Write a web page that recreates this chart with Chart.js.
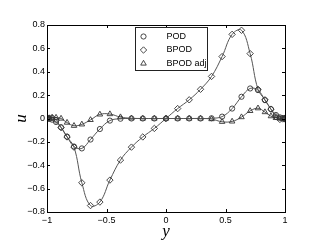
<!DOCTYPE html>
<html>
<head>
<meta charset="utf-8">
<script src="https://cdn.jsdelivr.net/npm/chart.js@4/dist/chart.umd.min.js"></script>
<style>
  html, body { margin: 0; padding: 0; background: #fff; }
  #wrap { width: 322px; height: 246px; position: relative; }
</style>
</head>
<body>
<div id="wrap"><canvas id="chart"></canvas></div>
<script>
// Chebyshev collocation nodes (y)
const nodes = [-1, -0.9952, -0.9808, -0.9569, -0.9239, -0.8819, -0.8315, -0.7730, -0.7071, -0.6344, -0.5556,
  -0.4714, -0.3827, -0.2903, -0.1951, -0.0980, 0, 0.0980, 0.1951, 0.2903, 0.3827, 0.4714,
  0.5556, 0.6344, 0.7071, 0.7730, 0.8315, 0.8819, 0.9239, 0.9569, 0.9808, 0.9952, 1];

const podU = [0, 0, -0.003, -0.01, -0.03, -0.075, -0.155, -0.24, -0.256, -0.18, -0.09,
  -0.018, -0.002, 0, 0, 0, 0, 0, 0, 0, 0.002, 0.016,
  0.085, 0.186, 0.257, 0.243, 0.157, 0.08, 0.03, 0.01, 0.003, 0, 0];

const bpodU = [0, 0, 0.004, 0.008, -0.015, -0.078, -0.158, -0.245, -0.55, -0.745, -0.715,
  -0.527, -0.356, -0.245, -0.158, -0.085, 0, 0.085, 0.16, 0.25, 0.36, 0.53,
  0.72, 0.755, 0.555, 0.25, 0.16, 0.08, 0.015, -0.008, -0.004, 0, 0];

const adjU = [0, 0, 0.002, 0.005, 0.008, 0, -0.035, -0.062, -0.05, -0.012, 0.035,
  0.038, 0.012, 0.002, 0, 0, 0, 0, 0, 0, -0.005, -0.028,
  -0.025, 0.012, 0.065, 0.088, 0.055, 0.02, 0.005, 0, 0, 0, 0];

const seriesNames = ['POD', 'BPOD', 'BPOD adj'];
const xTicks = [-1, -0.5, 0, 0.5, 1];
const yTicks = [-0.8, -0.6, -0.4, -0.2, 0, 0.2, 0.4, 0.6, 0.8];

const tickFont = { family: 'Liberation Sans', size: 9 };
const fmt = v => {
  const s = String(Math.round(v * 10) / 10);
  return s.replace('-', '\u2212');
};

function makeSet(label, values, style, radius) {
  return {
    label: label,
    data: nodes.map((x, i) => ({ x: x, y: values[i] })),
    borderColor: '#555',
    borderWidth: 1,
    tension: 0.4,
    pointStyle: style,
    pointRadius: radius,
    pointBorderColor: '#333',
    pointBorderWidth: 0.9,
    pointBackgroundColor: 'rgba(0,0,0,0)'
  };
}

// frame + inward ticks, like the original figure
const framePlugin = {
  id: 'frame',
  afterDatasetsDraw(chart) {
    const { ctx, chartArea: a, scales } = chart;
    ctx.save();
    ctx.strokeStyle = '#000';
    ctx.lineWidth = 1;
    ctx.beginPath();
    xTicks.forEach(v => {
      const px = Math.round(scales.x.getPixelForValue(v)) + 0.5;
      ctx.moveTo(px, a.bottom); ctx.lineTo(px, a.bottom - 3);
      ctx.moveTo(px, a.top); ctx.lineTo(px, a.top + 3);
    });
    yTicks.forEach(v => {
      const py = Math.round(scales.y.getPixelForValue(v)) + 0.5;
      ctx.moveTo(a.left, py); ctx.lineTo(a.left + 3, py);
      ctx.moveTo(a.right, py); ctx.lineTo(a.right - 3, py);
    });
    ctx.stroke();
    ctx.strokeRect(Math.round(a.left) + 0.5, Math.round(a.top) + 0.5,
      Math.round(a.right - a.left), Math.round(a.bottom - a.top));
    ctx.restore();
  }
};

// legend box drawn inside the plot
const legendPlugin = {
  id: 'boxLegend',
  afterDraw(chart) {
    const { ctx } = chart;
    const bx = 135.5, by = 27.5, bw = 72, bh = 43;
    ctx.save();
    ctx.fillStyle = '#fff';
    ctx.fillRect(bx, by, bw, bh);
    ctx.strokeStyle = '#222';
    ctx.lineWidth = 1;
    ctx.strokeRect(bx, by, bw, bh);
    ctx.font = '9px "Liberation Sans"';
    ctx.textBaseline = 'middle';
    chart.data.datasets.forEach((ds, i) => {
      const cy = by + 9 + i * 13.5;
      ctx.fillStyle = 'rgba(0,0,0,0)';
      ctx.strokeStyle = '#333';
      ctx.lineWidth = 0.9;
      Chart.helpers.drawPoint(ctx, {
        pointStyle: ds.pointStyle, radius: ds.pointRadius, borderWidth: 0.9
      }, bx + 8, cy);
      ctx.fillStyle = '#000';
      ctx.fillText(ds.label, bx + 31, cy);
    });
    ctx.restore();
  }
};

new Chart(document.getElementById('chart'), {
  type: 'line',
  data: {
    datasets: [
      makeSet(seriesNames[0], podU, 'circle', 2.6),
      makeSet(seriesNames[1], bpodU, 'rectRot', 3.2),
      makeSet(seriesNames[2], adjU, 'triangle', 3.2)
    ]
  },
  options: {
    responsive: true,
    maintainAspectRatio: false,
    animation: false,
    layout: { padding: { top: 25, right: 37, left: 0, bottom: 0 } },
    plugins: { legend: { display: false }, tooltip: { enabled: false } },
    elements: { point: { hoverRadius: 3 } },
    scales: {
      x: {
        type: 'linear',
        min: -1, max: 1,
        afterFit: s => { s.height = 34; },
        afterBuildTicks: s => { s.ticks = xTicks.map(v => ({ value: v })); },
        grid: { display: false, drawTicks: false },
        border: { display: false },
        ticks: { color: '#000', font: tickFont, padding: 3, callback: fmt, maxRotation: 0 },
        title: {
          display: true, text: 'y', color: '#000',
          font: { family: 'Liberation Serif', size: 17, style: 'italic' },
          padding: { top: 0, bottom: 4 }
        }
      },
      y: {
        min: -0.8, max: 0.8,
        afterFit: s => { s.width = 47; },
        afterBuildTicks: s => { s.ticks = yTicks.map(v => ({ value: v })); },
        grid: { display: false, drawTicks: false },
        border: { display: false },
        ticks: { color: '#000', font: tickFont, padding: 2, callback: fmt },
        title: {
          display: true, text: 'u', color: '#000',
          font: { family: 'Liberation Serif', size: 17, style: 'italic' },
          padding: { top: 11, bottom: 0 }
        }
      }
    }
  },
  plugins: [framePlugin, legendPlugin]
});
</script>
</body>
</html>
